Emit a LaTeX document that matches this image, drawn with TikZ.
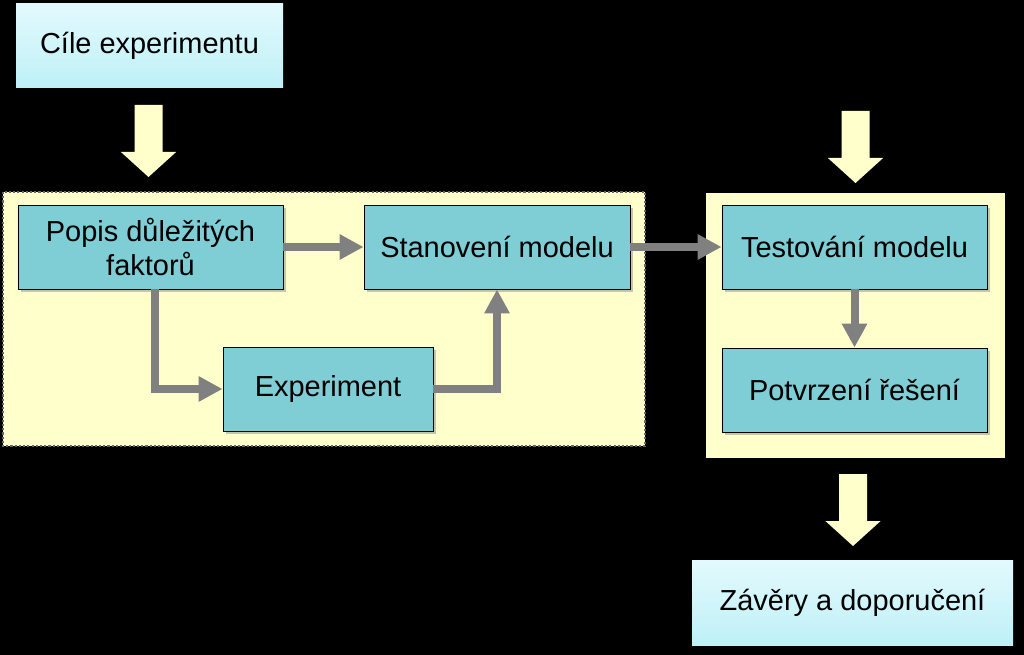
\documentclass[tikz,border=0pt]{standalone}
\usepackage{fontspec}
\setmainfont{Liberation Sans}
\usetikzlibrary{arrows.meta,shadows}
\definecolor{boxteal}{RGB}{127,205,213}
\definecolor{paleyellow}{RGB}{255,255,204}
\definecolor{paletop}{RGB}{226,250,253}
\definecolor{palebottom}{RGB}{190,240,247}
\definecolor{flowgray}{RGB}{128,128,128}
\tikzset{stepbox/.style={draw=black, line width=0.6pt, fill=boxteal, minimum height=2.1cm,
            inner sep=0pt, align=center, font=\fontsize{20.6}{24.5}\selectfont,
            drop shadow={shadow xshift=0.08cm, shadow yshift=-0.08cm, opacity=0.45}},
         endbox/.style={top color=paletop, bottom color=palebottom, minimum height=2.1cm,
            inner sep=0pt, align=center, font=\fontsize{20.6}{24.5}\selectfont},
         flow/.style={draw=flowgray, line width=0.2cm, line join=miter,
            -{Triangle[length=0.6cm,width=0.6cm]}},
         bigarrow/.pic={
        code={
            \fill[paleyellow] (0,0) -- (-0.69,0.625) -- (-0.35,0.625) -- (-0.35,1.8)
                -- (0.35,1.8) -- (0.35,0.625) -- (0.69,0.625) -- cycle;
  }}
}
\begin{document}
\begin{tikzpicture}

\fill[black] (0,0) rectangle (25.6,-16.375);

\fill[paleyellow, draw=black!60, line width=0.9pt, dash pattern=on 1.5pt off 1.5pt]
    (0.075,-4.8) rectangle (16.125,-11.15);
\fill[paleyellow] (17.65,-4.825) rectangle (25.125,-11.45);

\path (3.7125,-4.425) pic {bigarrow};
\path (21.3875,-4.575) pic {bigarrow};
\path (21.325,-13.65) pic {bigarrow};

\node[endbox, minimum width=6.675cm] (cile) at (3.7375,-1.15) {Cíle experimentu};
\node[endbox, minimum width=8.025cm, minimum height=2.125cm] (zavery) at (21.3125,-15.0625) {Závěry a doporučení};

\node[stepbox, minimum width=6.625cm] (popis) at (3.7625,-6.175) {Popis důležitých\\faktorů};
\node[stepbox, minimum width=6.65cm] (stanoveni) at (12.425,-6.175) {Stanovení modelu};
\node[stepbox, minimum width=5.25cm] (experiment) at (8.2,-9.725) {Experiment};

\node[stepbox, minimum width=6.625cm] (testovani) at (21.3625,-6.175) {Testování modelu};
\node[stepbox, minimum width=6.625cm] (potvrzeni) at (21.3625,-9.75) {Potvrzení řešení};

\draw[flow] (popis.east) -- (stanoveni.west);
\draw[flow] ([xshift=0.1cm]popis.south) |- (experiment.west);
\draw[flow] (experiment.east) -| (stanoveni.south);
\draw[flow] (stanoveni.east) -- (testovani.west);
\draw[flow] (testovani.south) -- (potvrzeni.north);

\end{tikzpicture}
\end{document}
